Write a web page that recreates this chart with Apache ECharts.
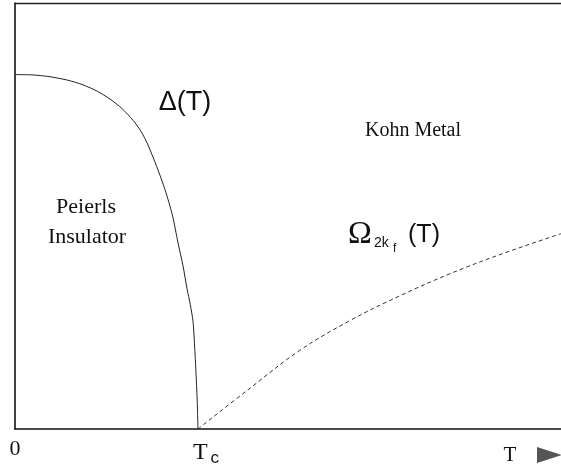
<!DOCTYPE html>
<html>
<head>
<meta charset="utf-8">
<script src="https://cdn.jsdelivr.net/npm/echarts@6/dist/echarts.min.js"></script>
<style>html,body{margin:0;padding:0;background:#fff}#c{width:561px;height:467px}</style>
</head>
<body>
<div id="c"></div>
<script>
// Order parameter Delta(T), in units of T/Tc and Delta/Delta(0)
const gapT   = [0, 0.10, 0.191, 0.290, 0.372, 0.450, 0.519, 0.585, 0.645, 0.690, 0.727, 0.775, 0.820, 0.860, 0.891, 0.918, 0.940, 0.958, 0.973, 0.983, 0.990, 0.996, 1.0];
const gapVal = [1, 0.999, 0.994, 0.984, 0.971, 0.953, 0.931, 0.904, 0.871, 0.839, 0.801, 0.740, 0.675, 0.604, 0.525, 0.461, 0.396, 0.351, 0.303, 0.222, 0.149, 0.076, 0];
// Renormalized phonon frequency Omega_2kf(T)
const phononT   = [1, 1.284, 1.557, 1.831, 2.104, 2.377, 2.650, 2.984];
const phononVal = [0, 0.115, 0.222, 0.306, 0.376, 0.438, 0.492, 0.551];
// Axis tick labels
const xTickValues = [0, 1];
const xTickLabels = ['0', '{t|T}{c|c}'];

const chart = echarts.init(document.getElementById('c'));
const serif = '"Liberation Serif", "DejaVu Serif", serif';
const sans = '"Liberation Sans", "DejaVu Sans", sans-serif';

chart.setOption({
  animation: false,
  backgroundColor: '#fff',
  grid: { left: 15, right: 0, top: 3, bottom: 36 },
  xAxis: [{
    type: 'value', min: 0, max: 2.984, position: 'bottom',
    axisLine: { show: true, lineStyle: { color: '#111', width: 1.6 } },
    axisTick: { show: false },
    splitLine: { show: false },
    axisLabel: {
      customValues: xTickValues,
      formatter: v => xTickLabels[xTickValues.indexOf(v)],
      margin: 9,
      fontFamily: serif, fontSize: 22, color: '#111',
      rich: {
        t: { fontFamily: serif, fontSize: 24, color: '#111', padding: [0, 0, 0, 16] },
        c: { fontFamily: sans, fontSize: 17, color: '#111', padding: [12, 0, 0, 3] }
      }
    }
  }, {
    type: 'value', min: 0, max: 2.984, position: 'top',
    axisLine: { show: true, lineStyle: { color: '#222', width: 1.4 } },
    axisTick: { show: false }, axisLabel: { show: false }, splitLine: { show: false }
  }],
  yAxis: {
    type: 'value', min: 0, max: 1.202,
    axisLine: { show: true, lineStyle: { color: '#111', width: 1.6 } },
    axisTick: { show: false }, axisLabel: { show: false }, splitLine: { show: false }
  },
  series: [{
    name: 'Delta', type: 'line', showSymbol: false, smooth: 0.25,
    data: gapT.map((t, i) => [t, gapVal[i]]),
    lineStyle: { color: '#222', width: 1 }
  }, {
    name: 'Omega', type: 'line', showSymbol: false, smooth: 0.4,
    data: phononT.map((t, i) => [t, phononVal[i]]),
    lineStyle: { color: '#333', width: 1, type: [4, 3] }
  }],
  graphic: [
    { type: 'text', style: { text: 'Δ(T)', x: 185, y: 103, textAlign: 'center', textVerticalAlign: 'middle', font: '27px ' + sans, fill: '#111' } },
    { type: 'text', style: { text: 'Kohn Metal', x: 413, y: 131, textAlign: 'center', textVerticalAlign: 'middle', font: '20px ' + serif, fill: '#111' } },
    { type: 'text', style: { text: 'Peierls', x: 86, y: 207, textAlign: 'center', textVerticalAlign: 'middle', font: '22px ' + serif, fill: '#111' } },
    { type: 'text', style: { text: 'Insulator', x: 87, y: 237, textAlign: 'center', textVerticalAlign: 'middle', font: '22px ' + serif, fill: '#111' } },
    { type: 'text', style: { text: 'Ω', x: 360, y: 235, textAlign: 'center', textVerticalAlign: 'middle', font: '32px ' + serif, fill: '#111' } },
    { type: 'text', style: { text: '2k', x: 374, y: 243, textAlign: 'left', textVerticalAlign: 'middle', font: '14px ' + sans, fill: '#111' } },
    { type: 'text', style: { text: 'f', x: 393, y: 249, textAlign: 'left', textVerticalAlign: 'middle', font: '12px ' + sans, fill: '#111' } },
    { type: 'text', style: { text: '(T)', x: 424, y: 235, textAlign: 'center', textVerticalAlign: 'middle', font: '25px ' + sans, fill: '#111' } },
    { type: 'text', style: { text: 'T', x: 510, y: 455, textAlign: 'center', textVerticalAlign: 'middle', font: '21px ' + serif, fill: '#111' } },
    { type: 'polygon', shape: { points: [[537, 447], [562, 455], [537, 463]] }, style: { fill: '#555' } }
  ]
});
</script>
</body>
</html>
